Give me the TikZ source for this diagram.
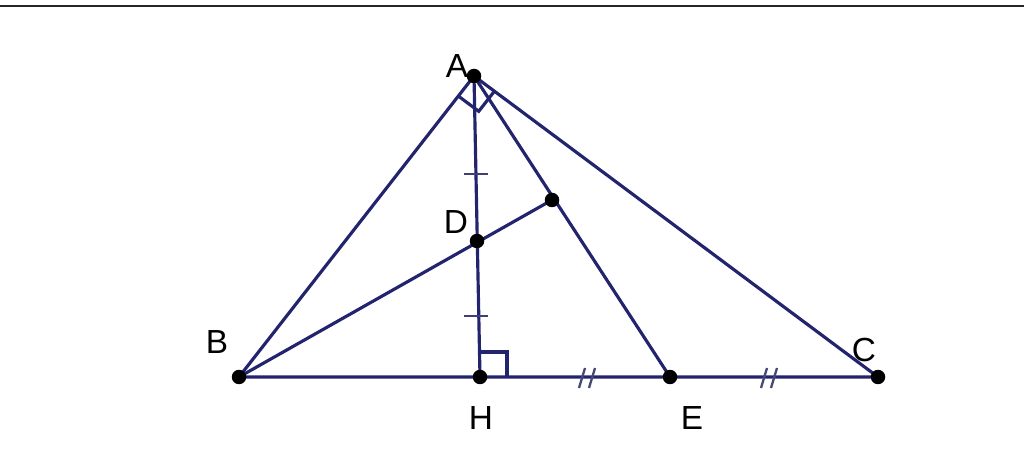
\documentclass[tikz,border=0pt]{standalone}
\usepackage{fontspec}
\setmainfont{Liberation Sans}
\usepackage{tikz}
\usetikzlibrary{calc}

\definecolor{navy}{RGB}{34,36,110}

\begin{document}
\begin{tikzpicture}[x=0.02cm,y=-0.02cm,
        seg/.style={draw=navy,line width=1.8pt},
        dot/.style={circle,fill=black,inner sep=0pt,minimum size=0.29cm},
        lbl/.style={font=\fontsize{19}{22}\selectfont}]
        \useasboundingbox (0,0) rectangle (1024,469);
        \draw[line width=1.3pt,black!85] (0,6) -- (1024,6);

        % Points
        \coordinate (A) at (474,76);
        \coordinate (B) at (239,377);
        \coordinate (C) at (878,377);
        \coordinate (H) at (480,377);
        \coordinate (E) at (670,377);
        \coordinate (D) at (477,241);
        \coordinate (F) at (552,200);

        % Edges
        \draw[seg] (A) -- (B) -- (C) -- cycle;
        \draw[seg] (A) -- (H);
        \draw[seg] (A) -- (E);
        \draw[seg] (B) -- (F);

        % Right angles
        \coordinate (ab) at ($(A)!14.5pt!(B)$);
        \coordinate (ac) at ($(A)!14.5pt!(C)$);
        \draw[seg] (ab) -- ($(ab)+(ac)-(A)$) -- (ac);
        \draw[seg] (480,352) -- (507,352) -- (507,377);

        % Ticks
        \foreach \y in {174,316} {
            \draw[seg,draw=navy!70!gray,line width=1pt] (464,\y) -- (488,\y);
        }
        \foreach \x in {588,770} {
            \draw[seg,draw=navy!60!gray,line width=1.3pt] (\x-9,388) -- (\x-3,368);
            \draw[seg,draw=navy!60!gray,line width=1.3pt] (\x+1,388) -- (\x+7,368);
        }

        \foreach \p in {A,B,C,H,E,D,F} {
            \node[dot] (n\p) at (\p) {};
        }

        \node[lbl] at (457,66) {A};
        \node[lbl] at (217,342) {B};
        \node[lbl] at (864,350) {C};
        \node[lbl] at (456,222) {D};
        \node[lbl] at (481,418) {H};
        \node[lbl] at (692,418) {E};
    \end{tikzpicture}
\end{document}
